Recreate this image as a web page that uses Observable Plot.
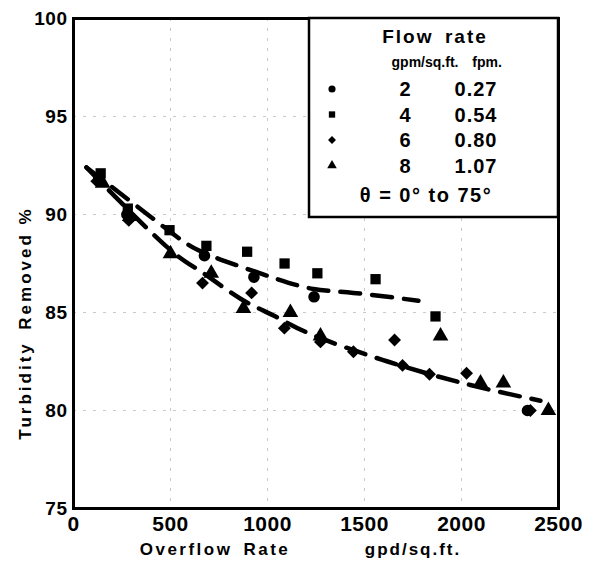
<!DOCTYPE html>
<html><head><meta charset="utf-8">
<script src="https://cdn.jsdelivr.net/npm/d3@7"></script>
<script src="https://cdn.jsdelivr.net/npm/@observablehq/plot@0.6"></script>
<style>
body{margin:0;background:#fff;}
#chart{width:598px;height:566px;}
svg{font-family:"Liberation Sans",Arial,sans-serif;}
</style></head><body><div id="chart"></div>
<script>
// ---- data ----
const xTicks = [0, 500, 1000, 1500, 2000, 2500];
const yTicks = [75, 80, 85, 90, 95, 100];

// 2 gpm/sq.ft (circle)
const gpm2X = [130, 275, 675, 930, 1240, 2340];
const gpm2Y = [91.9, 90.0, 87.9, 86.8, 85.8, 80.0];
// 4 gpm/sq.ft (square)
const gpm4X = [140, 280, 495, 685, 895, 1088, 1257, 1557, 1866];
const gpm4Y = [92.1, 90.3, 89.2, 88.4, 88.1, 87.5, 87.0, 86.7, 84.8];
// 6 gpm/sq.ft (diamond)
const gpm6X = [120, 285, 665, 918, 1087, 1273, 1443, 1655, 1696, 1835, 2026, 2355];
const gpm6Y = [91.7, 89.7, 86.5, 86.0, 84.2, 83.5, 83.0, 83.6, 82.3, 81.85, 81.9, 80.0];
// 8 gpm/sq.ft (triangle)
const gpm8X = [150, 290, 500, 710, 876, 1118, 1273, 1892, 2098, 2216, 2448];
const gpm8Y = [91.6, 89.9, 88.0, 87.0, 85.2, 85.0, 83.8, 83.8, 81.4, 81.4, 80.0];

// dashed fitted curves (points read along the dashes)
const upperX = [67, 448, 639, 845, 1052, 1237, 1443, 1778];
const upperY = [92.4, 89.5, 88.2, 87.4, 86.7, 86.2, 86.0, 85.6];
const lowerX = [67, 464, 655, 861, 1031, 1222, 1619, 2046, 2407];
const lowerY = [92.4, 88.5, 87.1, 85.7, 84.85, 83.9, 82.5, 81.3, 80.5];

// legend
const legendGpm = ["2", "4", "6", "8"];
const legendFpm = ["0.27", "0.54", "0.80", "1.07"];
const legendSymbols = ["circle", "square", "diamond2", "triangle"];

// ---- build tables ----
const series = [
  {xs: gpm2X, ys: gpm2Y, symbol: "circle"},
  {xs: gpm4X, ys: gpm4Y, symbol: "square"},
  {xs: gpm6X, ys: gpm6Y, symbol: "diamond2"},
  {xs: gpm8X, ys: gpm8Y, symbol: "triangle"}
];
const points = series.flatMap(s => s.xs.map((x, i) => ({x, y: s.ys[i], symbol: s.symbol})));
const upper = upperX.map((x, i) => ({x, y: upperY[i]}));
const lower = lowerX.map((x, i) => ({x, y: lowerY[i]}));

const W = 598, H = 566;
const chart = Plot.plot({
  width: W, height: H,
  marginLeft: 73, marginRight: 40, marginTop: 18, marginBottom: 58,
  x: {domain: [0, 2500]},
  y: {domain: [75, 100]},
  symbol: {domain: ["circle", "square", "diamond2", "triangle"], range: ["circle", "square", "diamond2", "triangle"]},
  marks: [
    Plot.gridX(xTicks.slice(1, -1), {stroke: "#888", strokeOpacity: 0.45, strokeDasharray: "3,7", strokeWidth: 1}),
    Plot.gridY(yTicks.slice(1, -1), {stroke: "#888", strokeOpacity: 0.45, strokeDasharray: "3,7", strokeWidth: 1}),
    Plot.line(upper, {x: "x", y: "y", curve: "natural", stroke: "black", strokeWidth: 4.5, strokeDasharray: "20,12"}),
    Plot.line(lower, {x: "x", y: "y", curve: "natural", stroke: "black", strokeWidth: 4.5, strokeDasharray: "20,12"}),
    Plot.dot(points, {x: "x", y: "y", symbol: "symbol", r: 5.8, fill: "black", stroke: "none"}),
    Plot.axisX(xTicks, {tickSize: 0, tickPadding: 8, fontSize: 21, fontWeight: "bold", fill: "black", label: null, tickFormat: d => String(d)}),
    Plot.axisY(yTicks, {tickSize: 0, tickPadding: 6, fontSize: 19, fontWeight: "bold", fill: "black", label: null}),
    Plot.frame({stroke: "black", strokeWidth: 3})
  ]
});
document.getElementById("chart").append(chart);

const svg = d3.select(chart);
svg.selectAll("text").style("letter-spacing", "0.5px");

// ---- axis titles ----
const t = svg.append("g").attr("font-weight", "bold").attr("fill", "black");
t.append("text").attr("x", 215).attr("y", 549).attr("dominant-baseline", "central")
  .attr("font-size", 17).attr("letter-spacing", "2.5px").text("Overflow\u2002Rate");
t.append("text").attr("x", 413).attr("y", 549).attr("dominant-baseline", "central")
  .attr("font-size", 17).attr("letter-spacing", "2px").text("gpd/sq.ft.");
t.append("text").attr("transform", "translate(25,323) rotate(-90)").attr("text-anchor", "middle")
  .attr("dominant-baseline", "central").attr("font-size", 17).attr("letter-spacing", "3px")
  .text("Turbidity\u2002Removed %");

// ---- legend box drawn inside the frame (top right) ----
const g = svg.append("g").attr("font-weight", "bold").attr("fill", "black");
g.append("rect").attr("x", 309).attr("y", 18).attr("width", 249).attr("height", 199)
  .attr("fill", "white").attr("stroke", "black").attr("stroke-width", 2.5);
g.append("text").attr("x", 435).attr("y", 36).attr("text-anchor", "middle").attr("dominant-baseline", "central")
  .attr("font-size", 19).attr("letter-spacing", "2px").text("Flow\u2002rate");
g.append("text").attr("x", 425).attr("y", 62).attr("text-anchor", "middle").attr("dominant-baseline", "central")
  .attr("font-size", 14).text("gpm/sq.ft.");
g.append("text").attr("x", 487).attr("y", 62).attr("text-anchor", "middle").attr("dominant-baseline", "central")
  .attr("font-size", 14).text("fpm.");
legendGpm.forEach((v, i) => {
  const yy = 89 + i * 25.5;
  const sym = {circle: d3.symbolCircle, square: d3.symbolSquare, diamond2: d3.symbolDiamond2, triangle: d3.symbolTriangle}[legendSymbols[i]];
  g.append("path").attr("d", d3.symbol(sym, 40)()).attr("transform", `translate(332,${yy})`).attr("fill", "black");
  g.append("text").attr("x", 405).attr("y", yy).attr("text-anchor", "middle").attr("dominant-baseline", "central")
    .attr("font-size", 20).text(v);
  g.append("text").attr("x", 476).attr("y", yy).attr("text-anchor", "middle").attr("dominant-baseline", "central")
    .attr("font-size", 20).attr("letter-spacing", "1px").text(legendFpm[i]);
});
g.append("text").attr("x", 426).attr("y", 195).attr("text-anchor", "middle").attr("dominant-baseline", "central")
  .attr("font-size", 20).attr("letter-spacing", "1.5px").text("\u03B8 = 0\u00B0 to 75\u00B0");
</script></body></html>
